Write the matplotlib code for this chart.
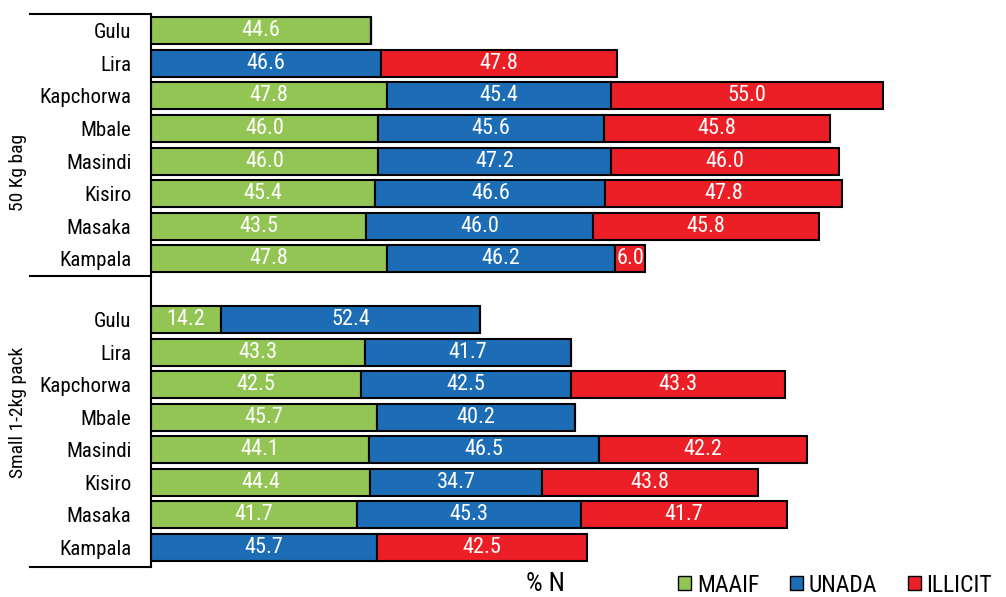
import numpy as np
import matplotlib
matplotlib.use("Agg")
import matplotlib.pyplot as plt
from matplotlib.patches import Patch
from matplotlib import font_manager

# pick a narrow font if one is there
names = set(f.name for f in font_manager.fontManager.ttflist)
narrow = None
for cand in ["Liberation Sans Narrow", "Roboto Condensed", "Open Sans Condensed",
             "Noto Sans Condensed", "DejaVu Sans Condensed"]:
    if cand in names:
        narrow = cand
        break
if narrow is None:
    plt.rcParams['font.family'] = ['DejaVu Sans']
    plt.rcParams['font.stretch'] = 'condensed'
else:
    plt.rcParams['font.family'] = [narrow, 'DejaVu Sans']

# data, read top to bottom
places = ["Gulu", "Lira", "Kapchorwa", "Mbale", "Masindi", "Kisiro", "Masaka", "Kampala"]
series = ["MAAIF", "UNADA", "ILLICIT"]

bag_maaif = [44.6, 0, 47.8, 46.0, 46.0, 45.4, 43.5, 47.8]
bag_unada = [0, 46.6, 45.4, 45.6, 47.2, 46.6, 46.0, 46.2]
bag_illicit = [0, 47.8, 55.0, 45.8, 46.0, 47.8, 45.8, 6.0]

pack_maaif = [14.2, 43.3, 42.5, 45.7, 44.1, 44.4, 41.7, 0]
pack_unada = [52.4, 41.7, 42.5, 40.2, 46.5, 34.7, 45.3, 45.7]
pack_illicit = [0, 0, 43.3, 0, 42.2, 43.8, 41.7, 42.5]

colors = ["#92C553", "#1C6DB6", "#EC1F26"]

"""
Row positions: first group on 0..7, second group after a gap
"""
y_bag = np.arange(8)
y_pack = np.arange(8) + 8.88
ypos = np.concatenate([y_bag, y_pack])
vals = [np.array(bag_maaif + pack_maaif),
        np.array(bag_unada + pack_unada),
        np.array(bag_illicit + pack_illicit)]

fig = plt.figure(figsize=(10.06, 5.97), dpi=100)
ax = fig.add_axes([151/1006, 1 - 567/597, 1 - 151/1006, (567 - 14)/597])

left = np.zeros(len(ypos))
for v, c, name in zip(vals, colors, series):
    ax.barh(ypos, v, left=left, height=0.83, color=c, edgecolor="black",
            linewidth=1.5, label=name)
    for y, l, w in zip(ypos, left, v):
        if w > 0:
            ax.text(l + w/2, y, "%.1f" % w, ha="center", va="center",
                    color="white", fontsize=16)
    left = left + v

ax.set_xlim(0, 855/4.94)
ax.set_ylim(16.48, -0.52)
ax.set_yticks(ypos)
ax.set_yticklabels(places + places, fontsize=15)
ax.tick_params(axis="y", length=0, pad=14)
ax.set_xticks([])
for s in ["top", "right", "bottom"]:
    ax.spines[s].set_visible(False)
ax.spines["left"].set_linewidth(1.5)

# group separators
x0 = -121/4.94
for yl in [-0.52, 7.52, 16.48]:
    ax.plot([x0, 0], [yl, yl], color="black", lw=1.5, clip_on=False)

fig.text(18/1006, 1 - 172/597, "50 Kg bag", rotation=90, ha="center",
         va="center", fontsize=14)
fig.text(18/1006, 1 - 412/597, "Small 1-2kg pack", rotation=90, ha="center",
         va="center", fontsize=14)

fig.text(545/1006, 1 - 584/597, "% N", ha="center", va="center", fontsize=19)

handles = [Patch(facecolor=c, edgecolor="black", linewidth=1.0) for c in colors]
fig.legend(handles, series, loc="center right", bbox_to_anchor=(1004/1006, 1 - 585/597),
           ncol=3, frameon=False, fontsize=17, handlelength=0.55, handleheight=0.55,
           handletextpad=0.25, columnspacing=1.3, borderpad=0)

fig.savefig("out.png", dpi=100)
